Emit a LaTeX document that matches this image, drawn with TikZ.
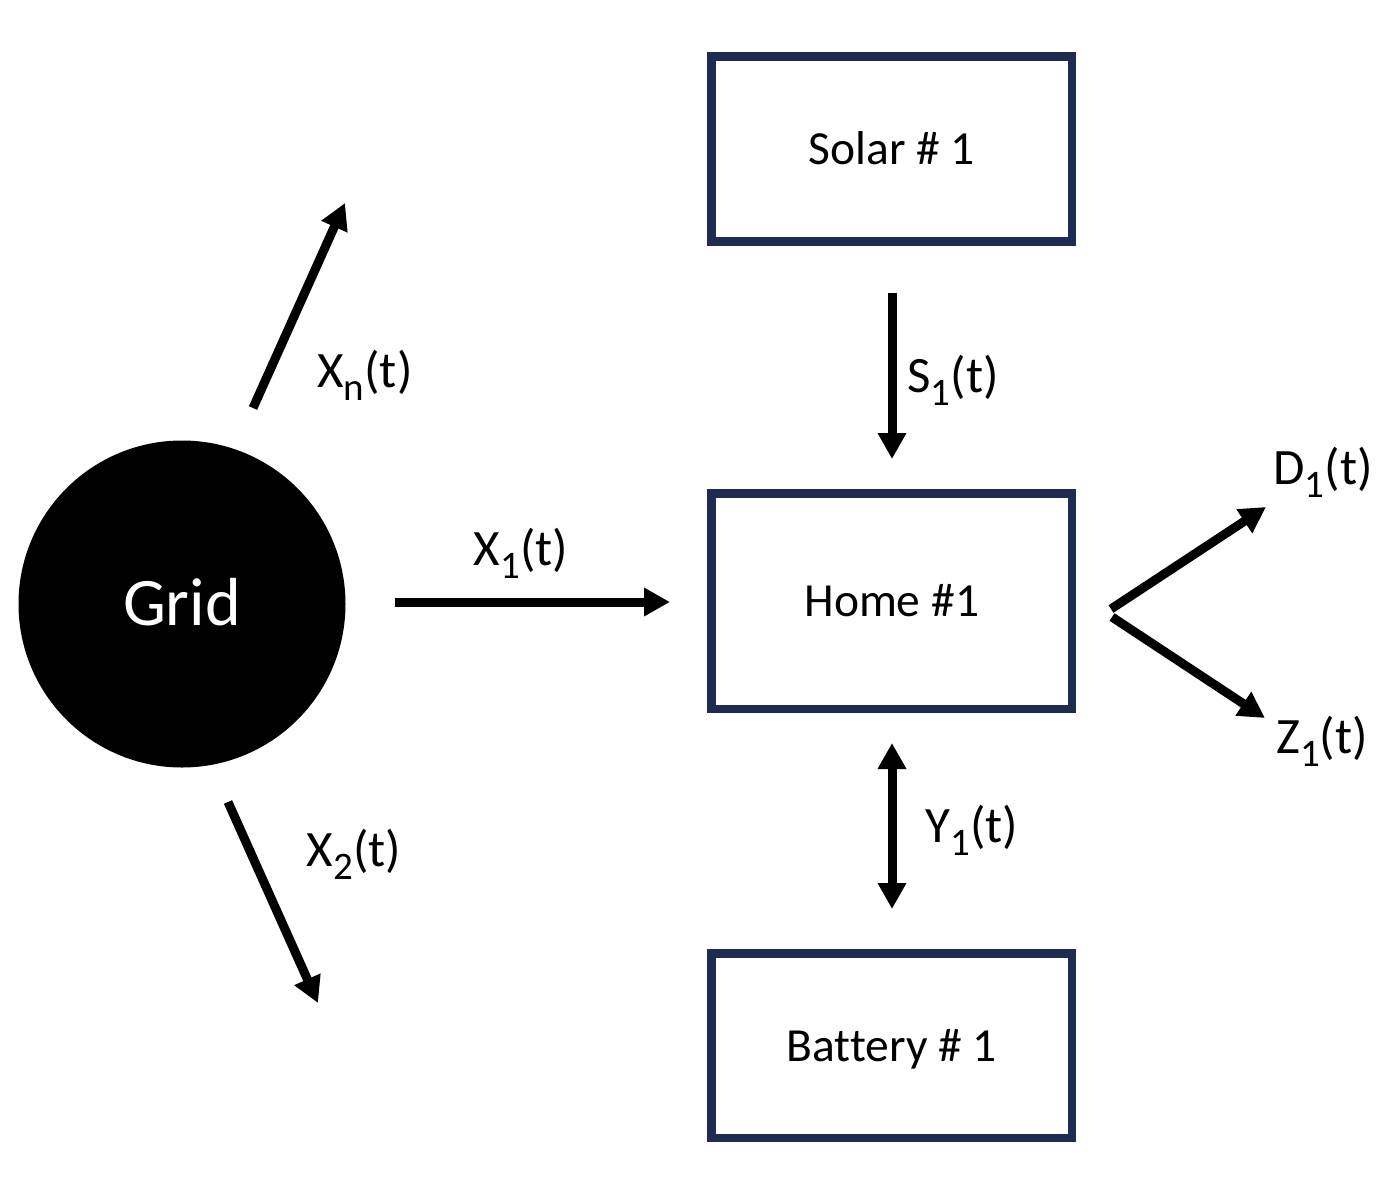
\documentclass[tikz,border=0pt]{standalone}
\usepackage{fontspec}
\setmainfont[Ligatures=NoCommon]{Carlito}
\usetikzlibrary{arrows.meta}
\definecolor{boxnavy}{RGB}{31,44,82}
\newcommand{\flowlab}[2]{#1\raisebox{-13pt}{\fontsize{39}{39}\selectfont #2}(t)}
\begin{document}
\begin{tikzpicture}[x=1pt,y=-1pt,
  unitbox/.style={draw=boxnavy, line width=8.5pt, fill=white, inner sep=0pt,
    minimum width=360.5pt, font=\fontsize{47.5}{56}\selectfont,
    text height=31pt, text depth=0pt},
  flow/.style={line width=9pt, -{Triangle[length=26pt,width=27pt]}},
  bothflow/.style={line width=9pt, {Triangle[length=26pt,width=27pt]}-{Triangle[length=26pt,width=27pt]}},
  flowtext/.style={anchor=base, inner sep=0pt, font=\fontsize{51}{60}\selectfont}]
\useasboundingbox (0,0) rectangle (1396,1196);
\fill[white] (0,0) rectangle (1396,1196);

% nodes
\node[circle, fill=black, minimum size=327pt, inner sep=0pt, text=white,
  font=\fontsize{68}{80}\selectfont, text height=43pt, text depth=0pt] (grid) at (182,604) {Grid};
\node[unitbox, minimum height=185pt] (solar) at (891.75,149) {Solar \# 1};
\node[unitbox, minimum height=215.5pt] (home) at (891.75,601.25) {Home \#1};
\node[unitbox, minimum height=184.5pt] (battery) at (891.75,1045.75) {Battery \# 1};

% arrow end points
\coordinate (xns) at (253,408);
\coordinate (xne) at (345,203);
\coordinate (x2s) at (228,802);
\coordinate (x2e) at (318,1003);
\coordinate (x1s) at (395,602);
\coordinate (x1e) at (670,602);
\coordinate (s1s) at (892,293);
\coordinate (s1e) at (892,459);
\coordinate (y1s) at (892,743);
\coordinate (y1e) at (892,909);
\coordinate (d1s) at (1111,609);
\coordinate (d1e) at (1266,507);
\coordinate (z1s) at (1112,617);
\coordinate (z1e) at (1265,718);

% connectors
\draw[flow] (xns) -- (xne);
\draw[flow] (x2s) -- (x2e);
\draw[flow] (x1s) -- (x1e);
\draw[flow] (s1s) -- (s1e);
\draw[bothflow] (y1s) -- (y1e);
\draw[flow] (d1s) -- (d1e);
\draw[flow] (z1s) -- (z1e);

% labels
\node[flowtext] (lxn) at (365,387) {\flowlab{X}{n}};
\node[flowtext] (lx1) at (521,565) {\flowlab{X}{1}};
\node[flowtext] (lx2) at (354,866) {\flowlab{X}{2}};
\node[flowtext] (ls1) at (953,392) {\flowlab{S}{1}};
\node[flowtext] (ly1) at (972,842) {\flowlab{Y}{1}};
\node[flowtext] (ld1) at (1323,484) {\flowlab{D}{1}};
\node[flowtext] (lz1) at (1322,753) {\flowlab{Z}{1}};
\end{tikzpicture}
\end{document}
